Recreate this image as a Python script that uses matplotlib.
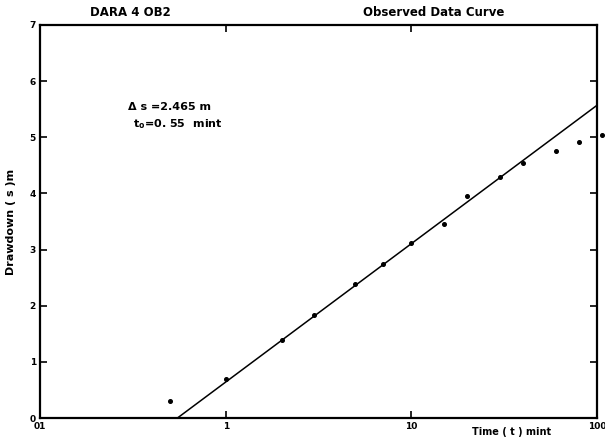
import numpy as np
import matplotlib
matplotlib.use("Agg")
import matplotlib.pyplot as plt

# Observed data (time in minutes, drawdown in m)
time_min = [0.5, 1.0, 2.0, 3.0, 5.0, 7.0, 10.0, 15.0, 20.0, 30.0, 40.0, 60.0, 80.0, 107.0]
drawdown_m = [0.30, 0.70, 1.39, 1.84, 2.39, 2.75, 3.12, 3.45, 3.96, 4.30, 4.55, 4.76, 4.92, 5.04]

# Straight-line fit parameters
delta_s = 2.465
t0 = 0.55
fit_t = [t0, 100.0]

x_ticks = [0.1, 1, 10, 100]
x_tick_labels = ["01", "1", "10", "100"]
y_ticks = [0, 1, 2, 3, 4, 5, 6, 7]

fig = plt.figure(figsize=(6.05, 4.38), dpi=100)
ax = fig.add_axes([40/605, 20/438, 557/605, 393/438])

ax.set_xscale("log")
ax.set_xlim(0.1, 100)
ax.set_ylim(0, 7)

fit_s = [delta_s * np.log10(t / t0) for t in fit_t]
ax.plot(fit_t, fit_s, color="black", lw=1.1, clip_on=False)
ax.plot(time_min, drawdown_m, "o", color="black", ms=2.6, clip_on=False)

for sp in ax.spines.values():
    sp.set_linewidth(1.6)

ax.set_xticks(x_ticks)
ax.set_xticklabels(x_tick_labels)
ax.xaxis.set_minor_locator(matplotlib.ticker.NullLocator())
ax.set_yticks(y_ticks)
ax.tick_params(axis="both", which="major", direction="in", length=5, width=1.2,
               top=True, right=True, labelsize=6.5, pad=3)
for lab in ax.get_xticklabels() + ax.get_yticklabels():
    lab.set_fontweight("bold")

ax.set_ylabel("Drawdown ( s )m", fontsize=8, fontweight="bold", labelpad=10)

fig.text(130/605, 1 - 12/438, "DARA 4 OB2", ha="center", va="center",
         fontsize=8.5, fontweight="bold")
fig.text(434/605, 1 - 12/438, "Observed Data Curve", ha="center", va="center",
         fontsize=8.5, fontweight="bold")
fig.text(512/605, 1 - 432/438, "Time ( t ) mint", ha="center", va="center",
         fontsize=7, fontweight="bold")

ax.text(128/605, 1 - 107/438, "\u0394 s =2.465 m", transform=fig.transFigure,
        ha="left", va="center", fontsize=8, fontweight="bold")
ax.text(133/605, 1 - 124/438, "t$_\\mathregular{o}$=0. 55  mint", transform=fig.transFigure,
        ha="left", va="center", fontsize=8, fontweight="bold")

fig.savefig("out.png", dpi=100)
